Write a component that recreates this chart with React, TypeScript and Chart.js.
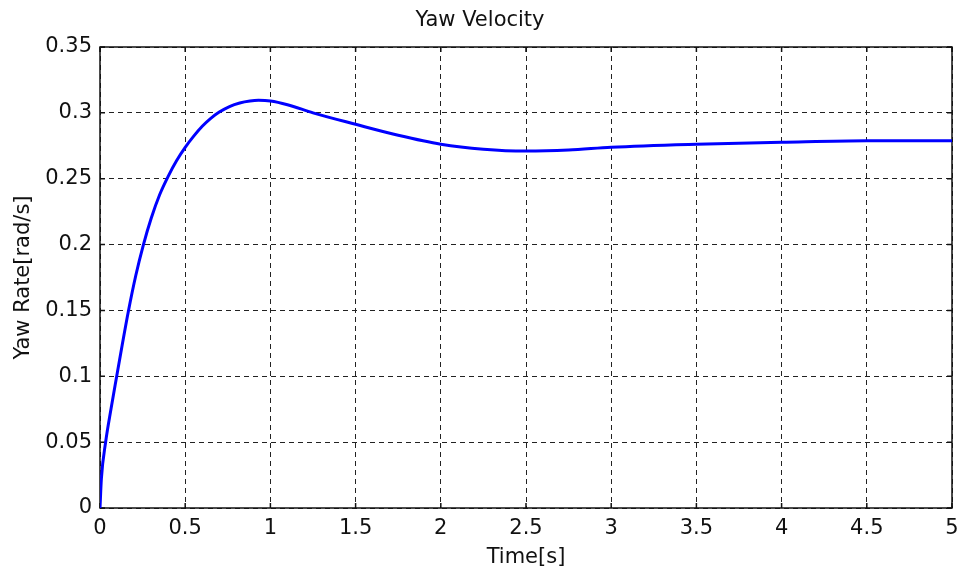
import React, { useEffect, useRef } from 'react';
import { Chart, registerables } from 'chart.js';

Chart.register(...registerables);

const timeS = [0, 0.008, 0.033, 0.065, 0.098, 0.13, 0.166, 0.21, 0.255, 0.3, 0.35, 0.4, 0.45, 0.5, 0.55, 0.6, 0.65, 0.7, 0.76, 0.82, 0.88, 0.93, 1.0, 1.1, 1.25, 1.5, 1.75, 2.0, 2.25, 2.5, 2.75, 3.0, 3.5, 4.0, 4.5, 5.0];
const yawRate = [0, 0.022, 0.05, 0.0755, 0.1, 0.1235, 0.149, 0.1765, 0.2, 0.2198, 0.2378, 0.2518, 0.2638, 0.2738, 0.2823, 0.2898, 0.2958, 0.3006, 0.3048, 0.3075, 0.309, 0.3095, 0.309, 0.3062, 0.3, 0.2913, 0.283, 0.2762, 0.2724, 0.271, 0.2718, 0.2739, 0.2762, 0.2777, 0.2789, 0.2789];

const xTickValues = [0, 0.5, 1, 1.5, 2, 2.5, 3, 3.5, 4, 4.5, 5];
const xTickLabels = ['0', '0.5', '1', '1.5', '2', '2.5', '3', '3.5', '4', '4.5', '5'];
const yTickValues = [0, 0.05, 0.1, 0.15, 0.2, 0.25, 0.3, 0.35];
const yTickLabels = ['0', '0.05', '0.1', '0.15', '0.2', '0.25', '0.3', '0.35'];

const FONT = '"DejaVu Sans", "Liberation Sans", sans-serif';
const FS = 21;

const boxPlugin = {
  id: 'matlabBox',
  beforeDatasetsDraw(chart: any) {
    const { ctx, chartArea: a, scales } = chart;
    ctx.save();
    ctx.strokeStyle = '#111';
    ctx.lineWidth = 1.5;
    ctx.setLineDash([]);
    ctx.strokeRect(a.left, a.top, a.right - a.left, a.bottom - a.top);
    const tl = 5;
    ctx.beginPath();
    xTickValues.forEach((v) => {
      const px = scales.x.getPixelForValue(v);
      ctx.moveTo(px, a.bottom);
      ctx.lineTo(px, a.bottom - tl);
      ctx.moveTo(px, a.top);
      ctx.lineTo(px, a.top + tl);
    });
    yTickValues.forEach((v) => {
      const py = scales.y.getPixelForValue(v);
      ctx.moveTo(a.left, py);
      ctx.lineTo(a.left + tl, py);
      ctx.moveTo(a.right, py);
      ctx.lineTo(a.right - tl, py);
    });
    ctx.stroke();
    ctx.restore();
  },
};

export default function App() {
  const canvasRef = useRef<HTMLCanvasElement | null>(null);

  useEffect(() => {
    if (!canvasRef.current) return;
    const chart = new Chart(canvasRef.current, {
      type: 'line',
      data: {
        datasets: [
          {
            label: 'Yaw Rate',
            data: timeS.map((t, i) => ({ x: t, y: yawRate[i] })),
            borderColor: '#0000ff',
            borderWidth: 3,
            pointRadius: 0,
            cubicInterpolationMode: 'monotone',
            fill: false,
          },
        ],
      },
      options: {
        animation: false,
        responsive: true,
        maintainAspectRatio: false,
        layout: { padding: { left: 0, right: 0, top: 0, bottom: 0 } },
        plugins: {
          legend: { display: false },
          tooltip: { enabled: false },
          title: {
            display: true,
            text: 'Yaw Velocity',
            color: '#111',
            font: { family: FONT, size: FS, weight: 'normal' },
            padding: { top: 8, bottom: 13.8 },
          },
        },
        scales: {
          x: {
            type: 'linear',
            min: 0,
            max: 5,
            afterBuildTicks: (scale: any) => {
              scale.ticks = xTickValues.map((v) => ({ value: v }));
            },
            afterFit: (scale: any) => {
              scale.height = 62;
              scale.paddingRight = 8;
            },
            ticks: {
              color: '#111',
              font: { family: FONT, size: FS },
              padding: 8,
              maxRotation: 0,
              autoSkip: false,
              callback: (_v: any, i: number) => xTickLabels[i],
            },
            grid: { color: '#222', lineWidth: 1, drawTicks: false },
            border: { display: false, dash: [5, 4] },
            title: {
              display: true,
              text: 'Time[s]',
              color: '#111',
              font: { family: FONT, size: FS },
              padding: { top: 0, bottom: 0 },
            },
          },
          y: {
            type: 'linear',
            min: 0,
            max: 0.35,
            afterBuildTicks: (scale: any) => {
              scale.ticks = yTickValues.map((v) => ({ value: v }));
            },
            afterFit: (scale: any) => {
              scale.width = 100;
            },
            ticks: {
              color: '#111',
              font: { family: FONT, size: FS },
              padding: 8,
              autoSkip: false,
              callback: (_v: any, i: number) => yTickLabels[i],
            },
            grid: { color: '#222', lineWidth: 1, drawTicks: false },
            border: { display: false, dash: [5, 4] },
            title: {
              display: true,
              text: 'Yaw Rate[rad/s]',
              color: '#111',
              font: { family: FONT, size: FS },
              padding: { top: 11, bottom: 0 },
            },
          },
        },
      },
      plugins: [boxPlugin],
    } as any);
    return () => chart.destroy();
  }, []);

  return (
    <div style={{ position: 'absolute', left: 0, top: 0, width: 960, height: 570, background: '#fff' }}>
      <canvas ref={canvasRef} />
    </div>
  );
}
